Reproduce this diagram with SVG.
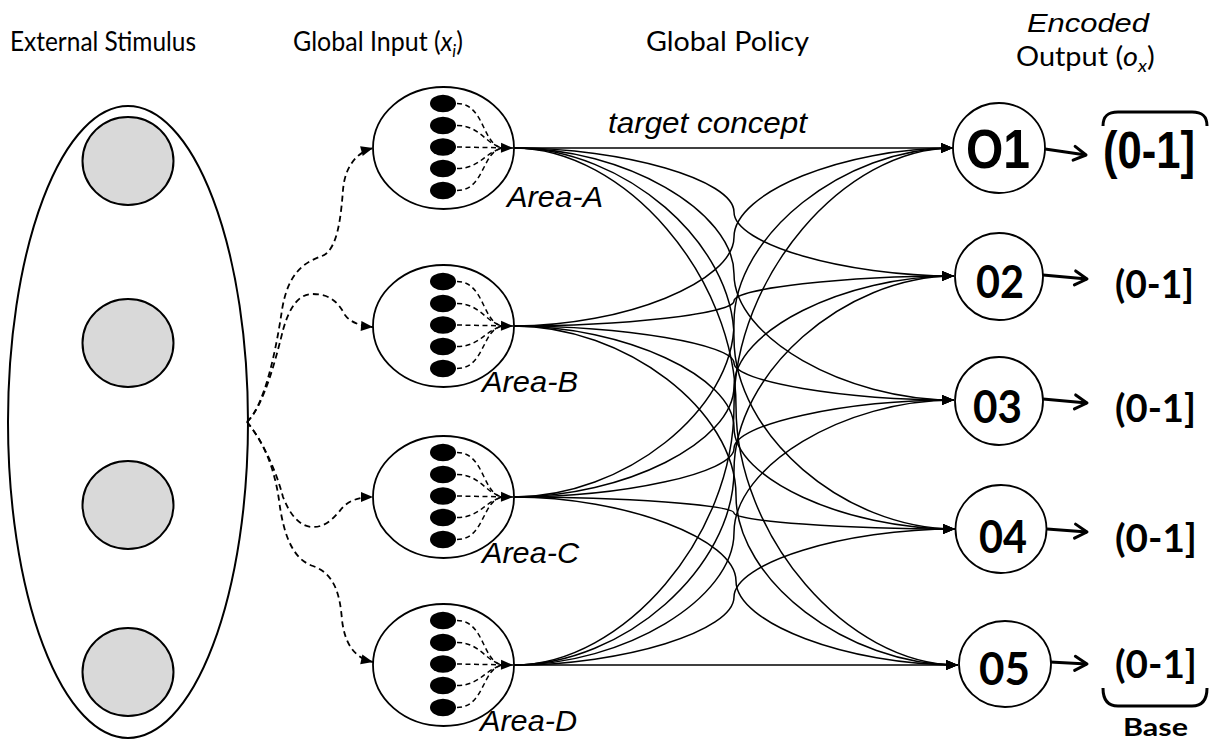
<svg xmlns="http://www.w3.org/2000/svg" xmlns:xlink="http://www.w3.org/1999/xlink" width="1210" height="744" viewBox="0 0 1210 744">
<style>
.hdr{font-family:Lato,"Open Sans",sans-serif;font-size:27px;fill:#000}
.ital{font-family:"Liberation Sans",Arial,sans-serif;font-style:italic;fill:#000}
.area{font-family:"Liberation Sans",Arial,sans-serif;font-style:italic;font-size:30px;fill:#000}
.onum{font-family:Lato,"Open Sans",sans-serif;font-weight:bold;font-size:46px;fill:#000}
.rng{font-family:Lato,"Open Sans",sans-serif;font-weight:bold;font-size:38px;fill:#000}
.base{font-family:Lato,"Open Sans",sans-serif;font-weight:bold;font-size:24px;fill:#000}
.arialb{font-family:"Liberation Sans",Arial,sans-serif;font-weight:bold;fill:#000}
.ln{fill:none;stroke:#000;stroke-width:1.5}
.dash{fill:none;stroke:#000;stroke-width:1.8;stroke-dasharray:6 4}
.idash{fill:none;stroke:#000;stroke-width:1.5;stroke-dasharray:5 3.5}
.outl{fill:#fff;stroke:#000;stroke-width:1.8}
.gray{fill:#d9d9d9;stroke:#000;stroke-width:2}
.thick{fill:none;stroke:#000;stroke-width:3}
</style>
<defs>
<marker id="tri" markerUnits="userSpaceOnUse" markerWidth="14" markerHeight="10" refX="12" refY="5" orient="auto" overflow="visible">
<path d="M0,0 L12,5 L0,10 z" fill="#000"/>
</marker>
<marker id="chev" markerUnits="userSpaceOnUse" markerWidth="16" markerHeight="16" refX="13" refY="8" orient="auto" overflow="visible">
<path d="M1,1 L13,8 L1,15" fill="none" stroke="#000" stroke-width="3" stroke-linecap="round" stroke-linejoin="round"/>
</marker>
<g id="areaShape">
<ellipse cx="443.5" cy="0" rx="70.5" ry="61" class="outl"/>
<ellipse cx="443" cy="-44.5" rx="13" ry="8.7" fill="#000"/>
<ellipse cx="443" cy="-22.5" rx="13" ry="8.7" fill="#000"/>
<ellipse cx="443" cy="-1" rx="13" ry="8.7" fill="#000"/>
<ellipse cx="443" cy="20.5" rx="13" ry="8.7" fill="#000"/>
<ellipse cx="443" cy="42.5" rx="13" ry="8.7" fill="#000"/>
<path class="idash" d="M457,-44.5 C485,-44.5 482,-2 503,0"/>
<path class="idash" d="M457,-22.5 C480,-22.5 485,-4 503,0"/>
<path class="idash" d="M457,-1 L513,0" marker-end="url(#tri)"/>
<path class="idash" d="M457,20.5 C480,20.5 485,4 503,0"/>
<path class="idash" d="M457,42.5 C485,42.5 482,2 503,0"/>
</g>
</defs>
<rect width="1210" height="744" fill="#fff"/>

<text class="hdr" x="10" y="51" textLength="186" lengthAdjust="spacingAndGlyphs">External Stimulus</text>
<text class="hdr" transform="translate(293,51) scale(0.926,1)" x="0" y="0">Global Input (<tspan font-style="italic">x</tspan><tspan font-style="italic" font-size="18" dy="6">i</tspan><tspan dy="-6">)</tspan></text>
<text class="hdr" x="646" y="51" textLength="163" lengthAdjust="spacingAndGlyphs">Global Policy</text>
<text class="ital" x="1027" y="32" font-size="26" textLength="122" lengthAdjust="spacingAndGlyphs">Encoded</text>
<text class="hdr" transform="translate(1016,66) scale(1.07,1)" x="0" y="0">Output (<tspan font-style="italic">o</tspan><tspan font-style="italic" font-size="18" dy="6">x</tspan><tspan dy="-6">)</tspan></text>
<text class="ital" x="608" y="133" font-size="29" textLength="199" lengthAdjust="spacingAndGlyphs">target concept</text>

<g id="stimulus">
<ellipse cx="128" cy="422" rx="120" ry="316" fill="#fff" stroke="#000" stroke-width="2"/>
<ellipse cx="128" cy="161" rx="45.5" ry="44" class="gray"/>
<ellipse cx="128" cy="343" rx="45.5" ry="44" class="gray"/>
<ellipse cx="128" cy="505" rx="45.5" ry="44" class="gray"/>
<ellipse cx="128" cy="672" rx="45.5" ry="44" class="gray"/>
</g>

<g id="area-a"><use xlink:href="#areaShape" href="#areaShape" transform="translate(0,148)"/><text class="area" x="507" y="207" textLength="96" lengthAdjust="spacingAndGlyphs">Area-A</text></g>
<g id="area-b"><use xlink:href="#areaShape" href="#areaShape" transform="translate(0,326)"/><text class="area" x="482" y="392" textLength="96" lengthAdjust="spacingAndGlyphs">Area-B</text></g>
<g id="area-c"><use xlink:href="#areaShape" href="#areaShape" transform="translate(0,497)"/><text class="area" x="482" y="563" textLength="97" lengthAdjust="spacingAndGlyphs">Area-C</text></g>
<g id="area-d"><use xlink:href="#areaShape" href="#areaShape" transform="translate(0,665)"/><text class="area" x="480" y="731" textLength="97" lengthAdjust="spacingAndGlyphs">Area-D</text></g>

<g id="connectors">
<path class="dash" marker-end="url(#tri)" d="M247,422 C265,405 276,350 282,310 C288,272 305,262 322,256 C338,250 341,215 343,190 C345,165 358,152 373,148"/>
<path class="dash" marker-end="url(#tri)" d="M247,422 C265,405 278,350 283,330 C290,305 300,294 312,294 C330,294 338,302 345,315 C350,322 360,326 373,327"/>
<path class="dash" marker-end="url(#tri)" d="M247,422 C262,440 276,470 283,497 C290,515 300,527 313,527 C328,527 336,515 343,507 C350,500 360,497 373,497"/>
<path class="dash" marker-end="url(#tri)" d="M247,422 C262,440 274,465 279,500 C284,540 295,560 313,566 C335,574 340,595 342,620 C345,645 355,658 373,662"/>

<path class="ln" marker-end="url(#tri)" d="M514,148 L953,148"/>
<path class="ln" marker-end="url(#tri)" d="M514,148 C624,148 734,180 734,212 C734,244 844,276 954,276"/>
<path class="ln" marker-end="url(#tri)" d="M514,148 C624,148 734,211 734,274 C734,337 844,400 954,400"/>
<path class="ln" marker-end="url(#tri)" d="M514,148 C624,148 734,243 734,338.5 C734,434 844,529 955,529"/>
<path class="ln" marker-end="url(#tri)" d="M514,148 C625,148 736,277 736,406.5 C736,536 847,665 958,665"/>

<path class="ln" marker-end="url(#tri)" d="M514,326 C624,326 734,281.5 734,237 C734,192.5 844,148 953,148"/>
<path class="ln" marker-end="url(#tri)" d="M514,326 C624,326 734,313.5 734,301 C734,288.5 844,276 954,276"/>
<path class="ln" marker-end="url(#tri)" d="M514,326 C624,326 734,344.5 734,363 C734,381.5 844,400 954,400"/>
<path class="ln" marker-end="url(#tri)" d="M514,326 C624,326 734,376.75 734,427.5 C734,478.25 844,529 955,529"/>
<path class="ln" marker-end="url(#tri)" d="M514,326 C625,326 736,410.75 736,495.5 C736,580.25 847,665 958,665"/>

<path class="ln" marker-end="url(#tri)" d="M514,497 C624,497 734,409.75 734,322.5 C734,235.25 844,148 953,148"/>
<path class="ln" marker-end="url(#tri)" d="M514,497 C624,497 734,441.75 734,386.5 C734,331.25 844,276 954,276"/>
<path class="ln" marker-end="url(#tri)" d="M514,497 C624,497 734,472.75 734,448.5 C734,424.25 844,400 954,400"/>
<path class="ln" marker-end="url(#tri)" d="M514,497 C624,497 734,505 734,513 C734,521 844,529 955,529"/>
<path class="ln" marker-end="url(#tri)" d="M514,497 C625,497 736,539 736,581 C736,623 847,665 958,665"/>

<path class="ln" marker-end="url(#tri)" d="M514,665 C624,665 734,535.75 734,406.5 C734,277.25 844,148 953,148"/>
<path class="ln" marker-end="url(#tri)" d="M514,665 C624,665 734,567.75 734,470.5 C734,373.25 844,276 954,276"/>
<path class="ln" marker-end="url(#tri)" d="M514,665 C624,665 734,598.75 734,532.5 C734,466.25 844,400 954,400"/>
<path class="ln" marker-end="url(#tri)" d="M514,665 C624,665 734,631 734,597 C734,563 844,529 955,529"/>
<path class="ln" marker-end="url(#tri)" d="M514,665 L958,665"/>

<path class="thick" marker-end="url(#chev)" d="M1045,149 L1086,155"/>
<path class="thick" marker-end="url(#chev)" d="M1043,275 L1087,279"/>
<path class="thick" marker-end="url(#chev)" d="M1043,399 L1087,403"/>
<path class="thick" marker-end="url(#chev)" d="M1047,529 L1087,532"/>
<path class="thick" marker-end="url(#chev)" d="M1050,662 L1087,664"/>
</g>

<g id="o1"><ellipse cx="999" cy="148" rx="46" ry="45" class="outl"/><text class="arialb" x="966" y="168" font-size="56" textLength="64" lengthAdjust="spacingAndGlyphs">O1</text></g>
<g id="o2"><ellipse cx="999" cy="276.5" rx="44" ry="43.5" class="outl"/><text class="onum" x="976" y="298" textLength="48" lengthAdjust="spacingAndGlyphs">02</text></g>
<g id="o3"><ellipse cx="999" cy="401" rx="44" ry="44" class="outl"/><text class="onum" x="973" y="423" textLength="49" lengthAdjust="spacingAndGlyphs">03</text></g>
<g id="o4"><ellipse cx="1001" cy="529" rx="45.5" ry="44" class="outl"/><text class="onum" x="979" y="553" textLength="48" lengthAdjust="spacingAndGlyphs">04</text></g>
<g id="o5"><ellipse cx="1005" cy="664" rx="46" ry="43" class="outl"/><text class="onum" x="979" y="685" textLength="51" lengthAdjust="spacingAndGlyphs">05</text></g>

<g id="r1"><text class="arialb" x="1103" y="168" font-size="51" textLength="92" lengthAdjust="spacingAndGlyphs">(0-1]</text>
<path class="thick" d="M1103,126 C1103,116 1108,112 1118,112 L1192,112 C1202,112 1207,116 1207,126"/></g>
<g id="r2"><text class="rng" x="1115" y="298" textLength="79" lengthAdjust="spacingAndGlyphs">(0-1]</text></g>
<g id="r3"><text class="rng" x="1115" y="422" textLength="81" lengthAdjust="spacingAndGlyphs">(0-1]</text></g>
<g id="r4"><text class="rng" x="1115" y="552" textLength="82" lengthAdjust="spacingAndGlyphs">(0-1]</text></g>
<g id="r5"><text class="rng" x="1115" y="678" textLength="82" lengthAdjust="spacingAndGlyphs">(0-1]</text>
<path class="thick" d="M1103,688 C1103,700 1108,706 1118,706 L1192,706 C1202,706 1207,700 1207,688"/>
<text class="base" x="1123" y="736" textLength="65" lengthAdjust="spacingAndGlyphs">Base</text></g>
</svg>
